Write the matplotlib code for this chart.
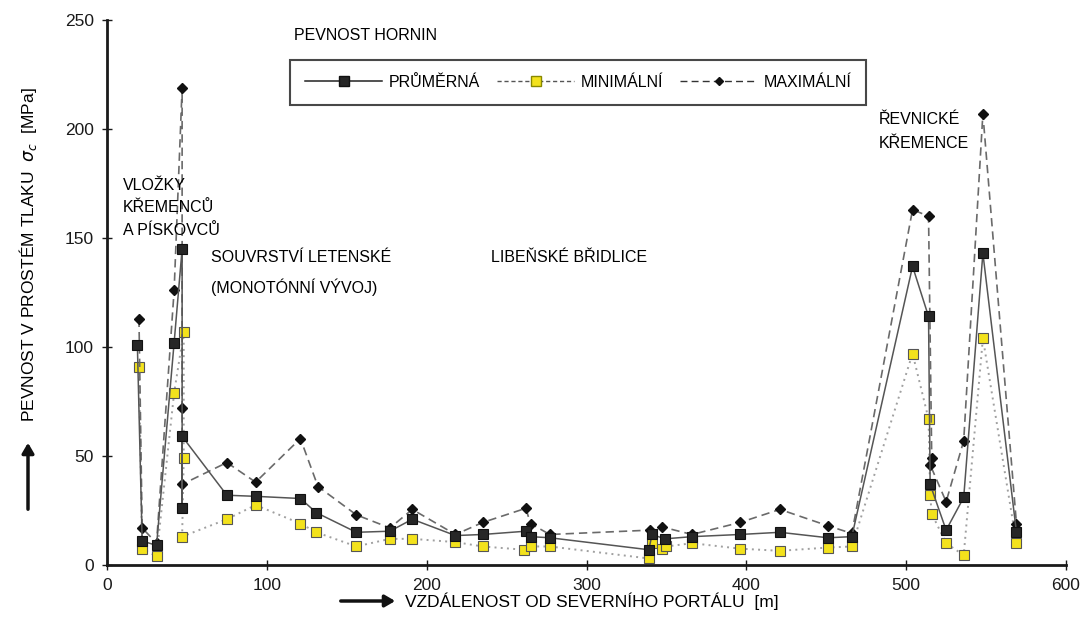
import matplotlib
matplotlib.use("Agg")
import matplotlib.pyplot as plt
from matplotlib.lines import Line2D

plt.rcParams['font.family'] = ['Liberation Sans', 'DejaVu Sans']

# data (distance [m], strength [MPa])
prumerna_x = [19, 22, 31, 42, 47, 47, 47, 75, 93, 121, 131, 156, 177, 191, 218, 235,
              262, 265, 277, 339, 341, 349, 366, 396, 421, 451, 466,
              504, 514, 515, 525, 536, 548, 569]
prumerna_y = [101, 11, 9, 102, 145, 26, 59, 32, 31.5, 30.5, 24, 15, 15.5, 21, 13.5, 14,
              15.5, 13, 12.5, 7, 14, 12, 13, 14, 15, 12.5, 13,
              137, 114, 37, 16, 31, 143, 15]

minimalni_x = [20, 22, 31, 42, 48, 48, 47, 75, 93, 121, 131, 156, 177, 191, 218, 235,
               261, 265, 277, 339, 341, 347, 350, 366, 396, 421, 451, 466,
               504, 514, 515, 516, 525, 536, 548, 569]
minimalni_y = [91, 7.5, 4, 79, 107, 49, 13, 21, 27.5, 19, 15, 8.5, 12, 12, 10.5, 8.5,
               7, 8.5, 8.5, 3, 10, 7.5, 8.5, 10, 7.5, 6.5, 8, 8.5,
               97, 67, 32, 23.5, 10, 4.5, 104, 10]

maximalni_x = [20, 22, 31, 42, 47, 47, 47, 75, 93, 121, 132, 156, 177, 191, 218, 235,
               262, 265, 277, 340, 347, 366, 396, 421, 451, 466,
               504, 514, 516, 515, 525, 536, 548, 569]
maximalni_y = [113, 17, 10, 126, 219, 72, 37, 47, 38, 58, 36, 23, 17, 25.5, 14, 19.5,
               26, 19, 14, 16, 17.5, 14, 19.5, 25.5, 18, 14.5,
               163, 160, 49, 46, 29, 57, 207, 19]

labels = ['PRŮMĚRNÁ', 'MINIMÁLNÍ', 'MAXIMÁLNÍ']

fig = plt.figure(figsize=(10.84, 6.4), dpi=100)
ax = fig.add_axes([107 / 1084, 75 / 640, 959 / 1084, 545 / 640])

ax.plot(minimalni_x, minimalni_y, color='#a0a0a0', lw=1.4, linestyle=(0, (1, 2.2)),
        marker='s', ms=7, mfc='#f3e21c', mec='#555555', mew=0.8, zorder=2)
ax.plot(maximalni_x, maximalni_y, color='#6a6a6a', lw=1.2, linestyle=(0, (5, 3)),
        marker='D', ms=5, mfc='#111111', mec='#111111', zorder=3)
ax.plot(prumerna_x, prumerna_y, color='#555555', lw=1.1, linestyle='-',
        marker='s', ms=7, mfc='#262626', mec='#111111', mew=0.8, zorder=4)

ax.set_xlim(0, 600)
ax.set_ylim(0, 250)
ax.set_xticks(range(0, 601, 100))
ax.set_yticks(range(0, 251, 50))
for s in ['top', 'right']:
    ax.spines[s].set_visible(False)
for s in ['left', 'bottom']:
    ax.spines[s].set_linewidth(2)
    ax.spines[s].set_color('#1a1a1a')
ax.tick_params(direction='inout', length=7, width=1, labelsize=12.5, colors='#1a1a1a', pad=6)

handles = [
    Line2D([], [], color='#222222', lw=1.1, marker='s', ms=7, mfc='#262626', mec='#111111'),
    Line2D([], [], color='#555555', lw=1.0, linestyle=(0, (3, 2)), marker='s', ms=7,
           mfc='#f3e21c', mec='#888800'),
    Line2D([], [], color='#333333', lw=1.0, linestyle=(0, (5, 3)), marker='D', ms=4,
           mfc='#111111', mec='#111111'),
]
leg = ax.legend(handles, labels, ncol=3, loc='upper left', bbox_to_anchor=(0.191, 0.927),
                borderaxespad=0, frameon=True, fancybox=False, edgecolor='#1a1a1a',
                fontsize=11.5, handlelength=4.8, columnspacing=1.1, handletextpad=0.4,
                borderpad=0.95)
leg.get_frame().set_linewidth(1.5)

fs = 11.5
ax.text(117, 243, 'PEVNOST HORNIN', fontsize=fs, va='center')
ax.text(10, 163.8, 'VLOŽKY\nKŘEMENCŮ\nA PÍSKOVCŮ', fontsize=fs, va='center', linespacing=1.6)
ax.text(65, 141, 'SOUVRSTVÍ LETENSKÉ', fontsize=fs, va='center')
ax.text(65, 127.5, '(MONOTÓNNÍ VÝVOJ)', fontsize=fs, va='center')
ax.text(240, 141, 'LIBEŇSKÉ BŘIDLICE', fontsize=fs, va='center')
ax.text(483, 199, 'ŘEVNICKÉ\nKŘEMENCE', fontsize=fs, va='center', linespacing=1.75)

# axis titles with arrows
fig.text(405 / 1084, 1 - 601 / 640, 'VZDÁLENOST OD SEVERNÍHO PORTÁLU  [m]',
         fontsize=12.5, va='center', ha='left')
fig.text(28 / 1084, 1 - 255 / 640, 'PEVNOST V PROSTÉM TLAKU  $\\sigma_c$  [MPa]',
         fontsize=12.5, va='center', ha='center', rotation=90)
fig.add_artist(matplotlib.patches.FancyArrowPatch(
    (338 / 1084, 1 - 601 / 640), (398 / 1084, 1 - 601 / 640), transform=fig.transFigure,
    arrowstyle='-|>,head_length=6,head_width=3.5', lw=2.5, color='#111111'))
fig.add_artist(matplotlib.patches.FancyArrowPatch(
    (28 / 1084, 1 - 512 / 640), (28 / 1084, 1 - 440 / 640), transform=fig.transFigure,
    arrowstyle='-|>,head_length=6,head_width=3.5', lw=2.5, color='#111111'))

fig.savefig('out.png', dpi=100)
